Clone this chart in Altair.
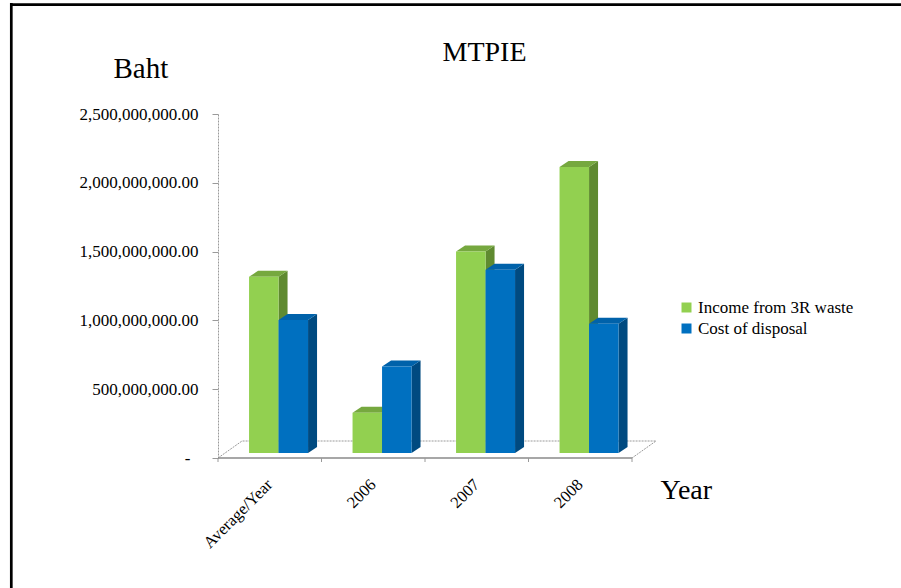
import altair as alt
import pandas as pd

# ---- data -------------------------------------------------------------
categories = ["Average/Year", "2006", "2007", "2008"]
series = ["Income from 3R waste", "Cost of disposal"]
income_3r = [1_280_000_000, 293_000_000, 1_465_000_000, 2_079_000_000]
cost_disposal = [966_000_000, 628_000_000, 1_332_000_000, 939_000_000]
y_ticks = [0, 500_000_000, 1_000_000_000, 1_500_000_000, 2_000_000_000, 2_500_000_000]

# ---- styling ----------------------------------------------------------
front_colors = ["#92D050", "#0070C0"]
top_colors = ["#76A83F", "#0062AA"]
side_colors = ["#5F8A30", "#004A80"]
FONT = "Liberation Serif"
GRID_GREY = "#9a9a9a"

W, H = 414, 344
Y_MAX = 2_500_000_000
N = len(categories)


def ux(px):
    """pixels -> x data units"""
    return px * N / W


def uy(px):
    """pixels -> y data units"""
    return px * Y_MAX / H


# pseudo-3D geometry, expressed in data units
BASE = uy(5)            # columns stand a little behind the front edge of the floor
DX, DY = ux(9), uy(6)   # depth of each column
BAR_LEFT, BAR_W = 0.30, 0.285
FLOOR_DX, FLOOR_DY = ux(24), uy(17)

fronts, sides, tops = [], [], []
for s_idx, (name, values) in enumerate(zip(series, [income_3r, cost_disposal])):
    for c_idx, (cat, v) in enumerate(zip(categories, values)):
        xl = c_idx + BAR_LEFT + s_idx * BAR_W
        xr = xl + BAR_W
        top = BASE + v
        key = f"{s_idx}-{c_idx}"
        fronts.append({"series": name, "category": cat, "value": v,
                       "x": xl, "x2": xr, "y": BASE, "y2": top})
        sides.append({"key": key, "shade": side_colors[s_idx],
                      "x": xr, "y": top, "y2": BASE})
        sides.append({"key": key, "shade": side_colors[s_idx],
                      "x": xr + DX, "y": top + DY, "y2": BASE + DY})
        tops.append({"key": key, "shade": top_colors[s_idx],
                     "y": top, "x": xl, "x2": xr})
        tops.append({"key": key, "shade": top_colors[s_idx],
                     "y": top + DY, "x": xl + DX, "x2": xr + DX})

fronts = pd.DataFrame(fronts)
sides = pd.DataFrame(sides)
tops = pd.DataFrame(tops)

floor_back = pd.DataFrame({
    "x": [0, FLOOR_DX, N + FLOOR_DX, N],
    "y": [0, FLOOR_DY, FLOOR_DY, 0],
    "i": [0, 1, 2, 3],
})
floor_front = pd.DataFrame({"x": [0, N], "y": [0, 0], "i": [0, 1]})
x_tick_marks = pd.DataFrame({"x": list(range(N + 1))})
x_tick_marks["y"] = 0.0
x_tick_marks["y2"] = uy(-4)

x_scale = alt.Scale(domain=[0, N], nice=False, zero=False)
y_scale = alt.Scale(domain=[0, Y_MAX], nice=False)

label_expr = "[" + ",".join(f"'{c}'" for c in categories) + "][floor(datum.value)]"

# one axis definition shared by every layer so that they merge cleanly
x_axis = alt.Axis(
    values=[i + 0.5 for i in range(N)], labelExpr=label_expr,
    labelAngle=-45, labelAlign="right", labelBaseline="top",
    labelOffset=-6, labelPadding=18,
    labelFont=FONT, labelFontSize=16.5, labelColor="black",
    ticks=False, domain=False, grid=False,
    title="Year", titleFont=FONT, titleFontSize=28, titleFontWeight="normal",
    titleColor="black", titleAlign="left",
    titleBaseline="alphabetic", titleX=442, titleY=40, titleAngle=0,
)
y_axis = alt.Axis(
    values=y_ticks,
    labelExpr="datum.value == 0 ? '-' : format(datum.value, ',.2f')",
    tickSize=6, tickColor=GRID_GREY, domainColor=GRID_GREY, domainDash=[2, 1],
    labelPadding={"condition": {"test": "datum.value == 0", "value": 22}, "value": 14},
    labelFont=FONT, labelFontSize=17, labelColor="black",
    grid=False,
    title="Baht", titleFont=FONT, titleFontSize=29, titleFontWeight="normal",
    titleColor="black", titleAngle=0, titleAlign="left",
    titleBaseline="alphabetic", titleX=-105, titleY=-37,
)


def X(field, **kw):
    return alt.X(field, scale=x_scale, axis=x_axis, **kw)


def Y(field, **kw):
    return alt.Y(field, scale=y_scale, axis=y_axis, **kw)


# ---- floor of the 3D plot -------------------------------------------
back = alt.Chart(floor_back).mark_line(
    color=GRID_GREY, strokeWidth=1, strokeDash=[2, 1]
).encode(x=X("x:Q"), y=Y("y:Q"), order="i:Q")

front_edge = alt.Chart(floor_front).mark_line(
    color="#8a8a8a", strokeWidth=1.5
).encode(x=X("x:Q"), y=Y("y:Q"), order="i:Q")

ticks_x = alt.Chart(x_tick_marks).mark_rule(color=GRID_GREY, strokeWidth=1).encode(
    x=X("x:Q"), y=Y("y:Q"), y2="y2:Q"
)

# ---- column faces -----------------------------------------------------
side_layer = alt.Chart(sides).mark_area(orient="vertical").encode(
    x=X("x:Q"),
    y=Y("y:Q", stack=None),
    y2="y2:Q",
    fill=alt.Fill("shade:N", scale=None, legend=None),
    detail="key:N",
)
top_layer = alt.Chart(tops).mark_area(orient="horizontal").encode(
    y=Y("y:Q"),
    x=X("x:Q", stack=None),
    x2="x2:Q",
    fill=alt.Fill("shade:N", scale=None, legend=None),
    detail="key:N",
)
front_layer = alt.Chart(fronts).mark_rect().encode(
    x=X("x:Q"),
    x2="x2:Q",
    y=Y("y:Q"),
    y2="y2:Q",
    color=alt.Color(
        "series:N",
        scale=alt.Scale(domain=series, range=front_colors),
        legend=alt.Legend(
            title=None, orient="none", legendX=460, legendY=185,
            symbolType="square", symbolSize=100, symbolStrokeWidth=0,
            labelFont=FONT, labelFontSize=17, labelColor="black",
            labelOffset=3, rowPadding=3, labelLimit=300,
        ),
    ),
)

# ---- outer frame ------------------------------------------------------
one = pd.DataFrame({"k": [0]})
frame_left = alt.Chart(one).mark_rule(color="black", strokeWidth=2.7).encode(
    x=alt.value(-206.7), y=alt.value(-111), y2=alt.value(474)
)
frame_top = alt.Chart(one).mark_rule(color="black", strokeWidth=2.7).encode(
    y=alt.value(-109.3), x=alt.value(-208), x2=alt.value(683)
)

chart = alt.layer(
    back, front_edge, ticks_x, side_layer, top_layer, front_layer, frame_left, frame_top
).properties(
    width=W, height=H,
    padding={"left": 218, "top": 114, "right": 901 - 218 - W, "bottom": 588 - 114 - H},
    autosize=alt.AutoSizeParams(type="none"),
    background="white",
    title=alt.TitleParams(
        "MTPIE", font=FONT, fontSize=28, fontWeight="normal", color="black",
        anchor="middle", frame="group", dx=59.5, offset=0, dy=87, baseline="alphabetic",
    ),
).configure_view(stroke=None)

chart.save("out.html", embed_options={"renderer": "svg", "actions": False})
